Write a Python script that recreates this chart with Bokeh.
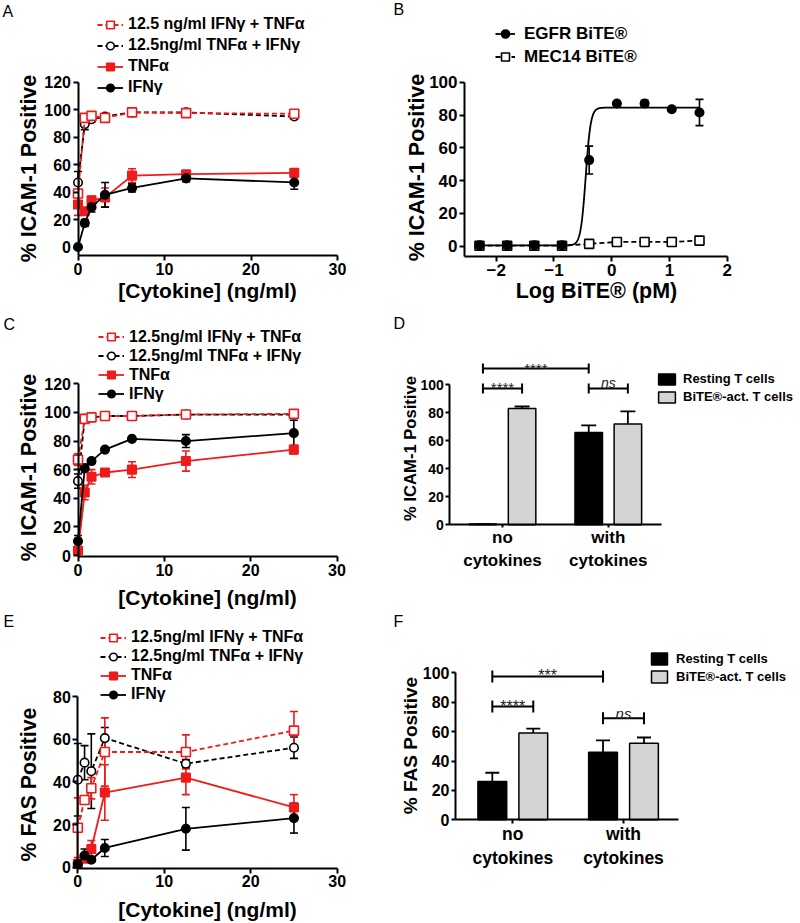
import math
import numpy as np
from bokeh.plotting import figure
from bokeh.models import (Range1d, LinearAxis, FixedTicker, Whisker, TeeHead,
                          ColumnDataSource, Legend, LegendItem, Label)
from bokeh.layouts import row, column
from bokeh.embed import file_html
from bokeh.resources import INLINE
from bokeh.core.properties import value

FONT = "Liberation Sans"
RED = "#ef1b1b"
GRAY = "#d4d4d4"

# ---------------- data ----------------
# Panels A / C: % ICAM-1 positive vs cytokine concentration (ng/ml)
conc = [0, 0.78125, 1.5625, 3.125, 6.25, 12.5, 25]
a_combo_ifn = [39, 94, 95.5, 94, 98, 97.5, 97]
a_combo_ifn_err = [8, 2, 1.5, 3, 1, 1, 1.5]
a_combo_tnf = [47, 89.5, 93, 95, 98, 98, 95]
a_combo_tnf_err = [8, 4, 1.5, 1, 1, 1, 1.5]
a_tnf = [31, 26, 34, 36, 52, 53, 54]
a_tnf_err = [8, 2, 3, 7, 5, 2, 2.5]
a_ifn = [0, 17.5, 29, 38, 43, 50, 47]
a_ifn_err = [0.5, 2.5, 3.5, 9, 3, 2.5, 5]

c_combo_ifn = [67, 95.5, 96.5, 97.5, 97.5, 98.5, 99]
c_combo_ifn_err = [4, 1, 1, 1, 1, 1, 1]
c_combo_tnf = [52, 95.5, 96.5, 97.5, 97.5, 98.5, 98.5]
c_combo_tnf_err = [5, 1, 1, 1, 1, 1, 1]
c_tnf = [3.5, 44, 55, 58, 60, 66, 74]
c_tnf_err = [2, 5, 5, 1.5, 5.5, 7, 3]
c_ifn = [10, 61, 66, 74, 81.5, 80, 85.5]
c_ifn_err = [4, 3, 1.5, 1, 1, 4.5, 9]

# Panel E: % FAS positive
conc_e = [0, 0.78125, 1.5625, 3.125, 12.5, 25]
e_combo_ifn = [18.5, 31.5, 37, 54, 54, 64]
e_combo_ifn_err = [14, 2, 5, 16, 8, 9]
e_combo_tnf = [41, 49, 45, 60.5, 48.5, 56]
e_combo_tnf_err = [17, 8, 17.5, 5, 2, 5]
e_tnf = [1.5, 4, 8.5, 35, 42, 28]
e_tnf_err = [2, 1.5, 4, 13, 8, 6]
e_ifn = [1.5, 5.5, 3.5, 9, 18, 23]
e_ifn_err = [1.5, 3, 1, 4, 10, 7]

# Panel B: % ICAM-1 positive vs log BiTE (pM)
log_bite = [-2.29, -1.81, -1.34, -0.86, -0.39, 0.09, 0.57, 1.04, 1.52]
b_egfr = [0.5, 0.5, 0.5, 0.5, 52.5, 87, 87, 83.5, 81.5]
b_egfr_err = [0.5, 0.5, 0.5, 0.5, 8.5, 1, 2, 1, 8]
b_mec14 = [0.3, 0.3, 0.3, 0.3, 1.4, 2.6, 2.6, 2.6, 3.4]
b_mec14_err = [0.3, 0.3, 0.3, 0.3, 0.5, 0.5, 0.5, 0.5, 0.5]
# 4-parameter logistic fit of EGFR BiTE curve
fit_bottom, fit_top, fit_logec50, fit_hill = 0.5, 84.5, -0.45, 10.0

# Panels D / F: bar charts
groups = ["no\ncytokines", "with\ncytokines"]
series_names = ["Resting T cells", "BiTE\u00ae-act. T cells"]
d_resting = [0.5, 66]
d_resting_err = [0, 5]
d_bite = [83, 72]
d_bite_err = [1.5, 9]
f_resting = [26, 46]
f_resting_err = [6, 8]
f_bite = [59, 52]
f_bite_err = [3, 4]
# significance brackets: (group, series) -> (group, series), height, text
d_br_from = [(0, 0), (0, 0), (1, 0)]
d_br_to = [(1, 0), (0, 1), (1, 1)]
d_br_y = [111.6, 97.4, 97.4]
d_br_txt = ["****", "****", "ns"]
f_br_from = [(0, 0), (0, 0), (1, 0)]
f_br_to = [(1, 0), (0, 1), (1, 1)]
f_br_y = [97.5, 77, 69]
f_br_txt = ["***", "****", "ns"]

lbl_combo1_a = "12.5 ng/ml IFN\u03b3 + TNF\u03b1"
lbl_combo1 = "12.5ng/ml IFN\u03b3 + TNF\u03b1"
lbl_combo2 = "12.5ng/ml TNF\u03b1 + IFN\u03b3"
lbl_tnf = "TNF\u03b1"
lbl_ifn = "IFN\u03b3"

BAR_OFF = 0.185
BAR_W = 0.26


class Panel:
    """One figure whose frame fills the whole canvas; px values are page pixels."""

    def __init__(self, x0, y0, w, h, xcal, ycal):
        self.fl = x0
        self.fb = y0 + h
        d1, p1, d2, p2 = xcal
        self.sx = (p2 - p1) / (d2 - d1)
        self.dx1, self.px1 = d1, p1
        e1, q1, e2, q2 = ycal
        self.sy = (q2 - q1) / (e2 - e1)
        self.dy1, self.py1 = e1, q1
        xr = Range1d(self.X(x0), self.X(x0 + w))
        yr = Range1d(self.Y(y0 + h), self.Y(y0))
        p = figure(width=w, height=h, x_range=xr, y_range=yr, output_backend="svg",
                   toolbar_location=None, x_axis_location=None, y_axis_location=None,
                   min_border_left=0, min_border_right=0, min_border_top=0,
                   min_border_bottom=0, title=None)
        p.outline_line_color = None
        p.xgrid.grid_line_color = None
        p.ygrid.grid_line_color = None
        self.p = p

    def X(self, px):
        return self.dx1 + (px - self.px1) / self.sx

    def Y(self, py):
        return self.dy1 + (py - self.py1) / self.sy

    def ppu_y(self):
        return abs(self.sy)

    def text(self, px, py, txt, size, style="bold", angle=0.0, align="center",
             baseline="middle"):
        self.p.add_layout(Label(x=self.X(px), y=self.Y(py), text=txt, angle=angle,
                                text_font=FONT, text_font_size=f"{size}px",
                                text_font_style=style, text_align=align,
                                text_baseline=baseline, text_color="black"))

    def axes(self, ax_px, ay_px, xticks, yticks, xend, yend, xsize, ysize,
             xstand=2, ystand=2, xtick=5, ytick=5, xover=None):
        xloc = self.X(ax_px)
        yloc = self.Y(ay_px)
        xa = LinearAxis(ticker=FixedTicker(ticks=xticks), fixed_location=yloc,
                        bounds=(xloc, xend))
        ya = LinearAxis(ticker=FixedTicker(ticks=yticks), fixed_location=xloc,
                        bounds=(yloc, yend))
        for ax, size, st, tk in ((xa, xsize, xstand, xtick), (ya, ysize, ystand, ytick)):
            ax.axis_line_width = 2
            ax.axis_line_color = "black"
            ax.major_tick_line_width = 2
            ax.major_tick_line_color = "black"
            ax.major_tick_out = tk
            ax.major_tick_in = 0
            ax.minor_tick_line_color = None
            ax.major_label_text_font = FONT
            ax.major_label_text_font_size = f"{size}px"
            ax.major_label_text_font_style = "bold"
            ax.major_label_text_color = "black"
            ax.major_label_standoff = st
        if xover is not None:
            xa.major_label_overrides = xover
        self.p.add_layout(xa, "below")
        self.p.add_layout(ya, "left")

    def legend(self, items, glyph_left, last_c, gw, gh, spacing, size, standoff):
        leg = Legend(items=items, location=(glyph_left - self.fl, self.fb - (last_c + gh / 2.0)),
                     orientation="vertical", padding=0, margin=0, spacing=spacing,
                     glyph_width=gw, glyph_height=gh, label_height=gh, label_standoff=standoff,
                     label_text_font=FONT, label_text_font_size=f"{size}px",
                     label_text_font_style="bold", label_text_color="black",
                     border_line_color=None, background_fill_alpha=0)
        self.p.add_layout(leg)


def series(pn, x, y, err, color, dash, marker, filled, size, with_line=True):
    p = pn.p
    src = ColumnDataSource(dict(x=x, y=y,
                                lo=[v - e for v, e in zip(y, err)],
                                hi=[v + e for v, e in zip(y, err)]))
    p.add_layout(Whisker(source=src, base="x", lower="lo", upper="hi",
                         line_color=color, line_width=1.6,
                         upper_head=TeeHead(size=8, line_color=color, line_width=1.6),
                         lower_head=TeeHead(size=8, line_color=color, line_width=1.6)))
    lr = None
    if with_line:
        lr = p.line("x", "y", source=src, line_color=color, line_width=1.8, line_dash=dash)
    sr = p.scatter("x", "y", source=src, marker=marker, size=size, line_color=color,
                   line_width=1.6, fill_color=color if filled else "white")
    return lr, sr


def cytokine_panel(pn, xdat, combo1, combo1_err, combo2, combo2_err, tnf, tnf_err,
                   ifn, ifn_err, combo1_label):
    l3, s3 = series(pn, xdat, tnf, tnf_err, RED, "solid", "square", True, 8.5)
    l4, s4 = series(pn, xdat, ifn, ifn_err, "black", "solid", "circle", True, 8.5)
    l2, s2 = series(pn, xdat, combo2, combo2_err, "black", "5 3", "circle", False, 8.5)
    l1, s1 = series(pn, xdat, combo1, combo1_err, RED, "5 3", "square", False, 9)
    return [LegendItem(label=combo1_label, renderers=[l1, s1]),
            LegendItem(label=lbl_combo2, renderers=[l2, s2]),
            LegendItem(label=lbl_tnf, renderers=[l3, s3]),
            LegendItem(label=lbl_ifn, renderers=[l4, s4])]


def bar_panel(pn, resting, resting_err, bite, bite_err, br_from, br_to, br_y, br_txt,
              cap_px, star_size, ns_size, head):
    p = pn.p
    pos = [[i + 1 - BAR_OFF, i + 1 + BAR_OFF] for i in range(len(groups))]
    rs = []
    for k, (vals, errs, col) in enumerate(((resting, resting_err, "black"),
                                           (bite, bite_err, GRAY))):
        xs = [pos[g][k] for g in range(len(groups))]
        src = ColumnDataSource(dict(x=xs, top=vals, hi=[v + e for v, e in zip(vals, errs)]))
        p.add_layout(Whisker(source=src, base="x", lower="top", upper="hi",
                             line_color="black", line_width=1.8,
                             upper_head=TeeHead(size=head, line_color="black", line_width=1.8),
                             lower_head=None))
        r = p.vbar(x="x", top="top", bottom=0, width=BAR_W, source=src, fill_color=col,
                   line_color="black", line_width=1.5)
        rs.append(r)
    cap = cap_px / pn.ppu_y()
    bx0 = [pos[a][b] for a, b in br_from]
    bx1 = [pos[a][b] for a, b in br_to]
    p.segment(x0=bx0, y0=br_y, x1=bx1, y1=br_y, line_color="black", line_width=2)
    p.segment(x0=bx0 + bx1, y0=[y - cap for y in br_y] * 2, x1=bx0 + bx1,
              y1=[y + cap for y in br_y] * 2, line_color="black", line_width=2)
    for a, b, y, t in zip(bx0, bx1, br_y, br_txt):
        is_ns = t == "ns"
        off = (5.0 if is_ns else 0.5) / pn.ppu_y()
        p.text(x=[(a + b) / 2.0], y=[y + off], text=[t], text_align="center",
               text_baseline="alphabetic", text_font=value(FONT),
               text_font_size=f"{ns_size if is_ns else star_size}px",
               text_font_style="italic" if is_ns else "normal", text_color="#222222")
    return [LegendItem(label=series_names[0], renderers=[rs[0]]),
            LegendItem(label=series_names[1], renderers=[rs[1]])]


over = {1: groups[0], 2: groups[1]}
YLBL = "% ICAM-1 Positive"
XLBL = "[Cytokine] (ng/ml)"
LW, RW = 393, 407
H1, H2 = 304, 306
Y2 = H1
Y3 = H1 + H2
H3 = 923 - Y3

# ---------------- Panel A ----------------
A = Panel(0, 0, LW, H1, (0, 77.5, 30, 337), (0, 246.5, 120, 81.7))
A.axes(77.5, 255, [0, 10, 20, 30], [0, 20, 40, 60, 80, 100, 120], 30, 120, 16, 16)
items = cytokine_panel(A, conc, a_combo_ifn, a_combo_ifn_err, a_combo_tnf, a_combo_tnf_err,
                       a_tnf, a_tnf_err, a_ifn, a_ifn_err, lbl_combo1_a)
A.legend(items, 97, 87.3, 26, 19, 2, 16, 5)
A.text(28, 168, YLBL, 21.5, angle=math.pi / 2)
A.text(207, 290, XLBL, 21)
A.text(2, 2, "A", 16, style="normal", align="left", baseline="top")

# ---------------- Panel B ----------------
B = Panel(LW, 0, RW, H1, (-2, 495.7, 2, 726.7), (0, 245.7, 100, 81.7))
B.axes(464, 256, [-2, -1, 0, 1, 2], [0, 20, 40, 60, 80, 100], 2, 100, 17, 17)
mec_l, mec_s = series(B, log_bite, b_mec14, b_mec14_err, "black", "5 3", "square", False, 9)
fx = np.linspace(log_bite[0], log_bite[-1], 500)
fy = fit_bottom + (fit_top - fit_bottom) / (1 + 10 ** ((fit_logec50 - fx) * fit_hill))
fit_r = B.p.line(fx, fy, line_color="black", line_width=1.8)
_, egfr_s = series(B, log_bite, b_egfr, b_egfr_err, "black", "solid", "circle", True, 8.5,
                   with_line=False)
B.legend([LegendItem(label="EGFR BiTE\u00ae", renderers=[fit_r, egfr_s]),
          LegendItem(label="MEC14 BiTE\u00ae", renderers=[mec_l, mec_s])],
         495, 56.7, 20, 21, 2, 17, 9)
B.text(416, 167, YLBL, 21.5, angle=math.pi / 2)
B.text(596, 290, "Log BiTE\u00ae (pM)", 21.5)
B.text(393, 0, "B", 16, style="normal", align="left", baseline="top")

# ---------------- Panel C ----------------
C = Panel(0, Y2, LW, H2, (0, 77.5, 30, 336.5), (0, 555, 120, 383.3))
C.axes(77.5, 556, [0, 10, 20, 30], [0, 20, 40, 60, 80, 100, 120], 30, 120, 16, 16)
items = cytokine_panel(C, conc, c_combo_ifn, c_combo_ifn_err, c_combo_tnf, c_combo_tnf_err,
                       c_tnf, c_tnf_err, c_ifn, c_ifn_err, lbl_combo1)
C.legend(items, 98, 393.5, 26, 19, 0, 16, 5)
C.text(28, 467, YLBL, 21.5, angle=math.pi / 2)
C.text(207, 597, XLBL, 21)
C.text(3, 315, "C", 16, style="normal", align="left", baseline="top")

# ---------------- Panel D ----------------
D = Panel(LW, Y2, RW, H2, (1, 502, 2, 607.8), (0, 524.3, 100, 384.3))
D.axes(449.3, 524.3, [1, 2], [0, 20, 40, 60, 80, 100], D.X(661), 100, 17, 14,
       xstand=0, ystand=2, xtick=3, ytick=4, xover=over)
items = bar_panel(D, d_resting, d_resting_err, d_bite, d_bite_err, d_br_from, d_br_to,
                  d_br_y, d_br_txt, 5, 15, 14, 15)
D.legend(items, 656, 397, 21, 14, 3, 13, 6)
D.text(410, 448, YLBL, 16.6, angle=math.pi / 2)
D.text(393, 314, "D", 16, style="normal", align="left", baseline="top")

# ---------------- Panel E ----------------
E = Panel(0, Y3, LW, H3, (0, 77.3, 30, 336.7), (0, 866.7, 80, 696))
E.axes(77.3, 867.5, [0, 10, 20, 30], [0, 20, 40, 60, 80], 30, 80, 16, 16)
items = cytokine_panel(E, conc_e, e_combo_ifn, e_combo_ifn_err, e_combo_tnf, e_combo_tnf_err,
                       e_tnf, e_tnf_err, e_ifn, e_ifn_err, lbl_combo1)
E.legend(items, 100, 694, 26, 19, 0, 16, 5)
E.text(28, 784, "% FAS Positive", 21.3, angle=math.pi / 2)
E.text(207, 909, XLBL, 21)
E.text(3, 612, "E", 16, style="normal", align="left", baseline="top")

# ---------------- Panel F ----------------
F = Panel(LW, Y3, RW, H3, (1, 512.3, 2, 623), (0, 819.3, 100, 672.3))
F.axes(455, 819.3, [1, 2], [0, 20, 40, 60, 80, 100], F.X(678), 100, 17.5, 16,
       xstand=0, ystand=2, xtick=4, ytick=4, xover=over)
items = bar_panel(F, f_resting, f_resting_err, f_bite, f_bite_err, f_br_from, f_br_to,
                  f_br_y, f_br_txt, 6, 16, 15, 14)
F.legend(items, 649, 676, 20, 15, 3, 13, 7)
F.text(410, 745, "% FAS Positive", 19, angle=math.pi / 2)
F.text(393, 612, "F", 16, style="normal", align="left", baseline="top")

layout = column(row(A.p, B.p), row(C.p, D.p), row(E.p, F.p))
open("out.html", "w").write(file_html(layout, INLINE))
